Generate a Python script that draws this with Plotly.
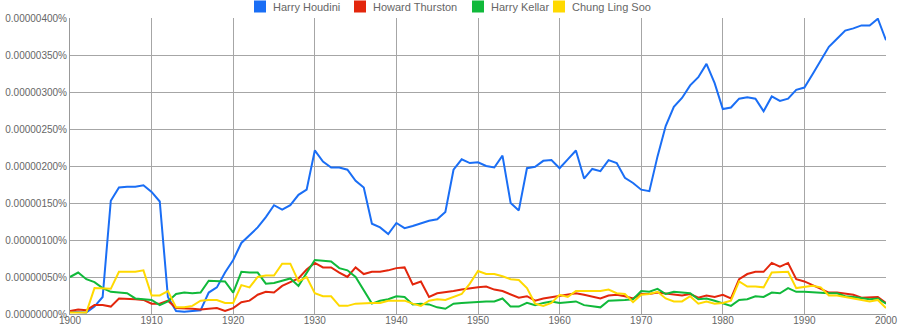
import plotly.graph_objects as go

years = list(range(1900, 2001))

# values in millionths of a percent (1e-6 %)
houdini = [0.03, 0.02, 0.02, 0.10, 0.23, 1.53, 1.71, 1.72, 1.72, 1.74,
           1.65, 1.52, 0.23, 0.04, 0.03, 0.04, 0.05, 0.29, 0.36, 0.56,
           0.73, 0.96, 1.06, 1.17, 1.31, 1.47, 1.41, 1.47, 1.61, 1.68,
           2.21, 2.06, 1.98, 1.98, 1.95, 1.80, 1.71, 1.22, 1.17, 1.08,
           1.23, 1.16, 1.19, 1.23, 1.26, 1.28, 1.38, 1.95, 2.09, 2.04,
           2.05, 2.00, 1.98, 2.14, 1.50, 1.40, 1.97, 1.99, 2.07, 2.08,
           1.97, 2.09, 2.21, 1.83, 1.96, 1.93, 2.08, 2.04, 1.84, 1.77,
           1.68, 1.66, 2.13, 2.54, 2.80, 2.92, 3.09, 3.20, 3.38, 3.12,
           2.77, 2.79, 2.91, 2.93, 2.91, 2.74, 2.94, 2.88, 2.91, 3.03,
           3.06, 3.24, 3.43, 3.61, 3.72, 3.83, 3.86, 3.90, 3.90, 3.99,
           3.70]

thurston = [0.04, 0.06, 0.05, 0.12, 0.12, 0.10, 0.21, 0.21, 0.20, 0.19,
            0.14, 0.14, 0.18, 0.08, 0.08, 0.07, 0.06, 0.07, 0.08, 0.04,
            0.08, 0.16, 0.18, 0.26, 0.30, 0.29, 0.38, 0.43, 0.48, 0.60,
            0.69, 0.63, 0.63, 0.56, 0.50, 0.63, 0.54, 0.57, 0.57, 0.59,
            0.62, 0.63, 0.40, 0.44, 0.23, 0.28, 0.29, 0.31, 0.33, 0.35,
            0.36, 0.37, 0.33, 0.31, 0.26, 0.22, 0.24, 0.18, 0.21, 0.23,
            0.25, 0.27, 0.28, 0.26, 0.24, 0.21, 0.25, 0.26, 0.24, 0.21,
            0.27, 0.27, 0.29, 0.28, 0.27, 0.25, 0.27, 0.22, 0.25, 0.23,
            0.26, 0.21, 0.47, 0.54, 0.57, 0.57, 0.69, 0.64, 0.69, 0.47,
            0.44, 0.39, 0.35, 0.29, 0.29, 0.27, 0.26, 0.22, 0.22, 0.23,
            0.15]

kellar = [0.50, 0.56, 0.47, 0.43, 0.35, 0.30, 0.29, 0.28, 0.21, 0.20,
          0.19, 0.12, 0.17, 0.27, 0.29, 0.28, 0.29, 0.45, 0.45, 0.44,
          0.29, 0.57, 0.56, 0.56, 0.41, 0.42, 0.45, 0.48, 0.38, 0.55,
          0.73, 0.72, 0.71, 0.62, 0.59, 0.50, 0.32, 0.14, 0.18, 0.20,
          0.24, 0.23, 0.13, 0.14, 0.13, 0.09, 0.07, 0.14, 0.15, 0.16,
          0.17, 0.17, 0.17, 0.21, 0.10, 0.10, 0.15, 0.12, 0.15, 0.17,
          0.15, 0.16, 0.17, 0.12, 0.11, 0.09, 0.18, 0.18, 0.19, 0.20,
          0.31, 0.30, 0.34, 0.27, 0.30, 0.29, 0.28, 0.20, 0.21, 0.18,
          0.15, 0.11, 0.19, 0.20, 0.24, 0.23, 0.29, 0.28, 0.35, 0.30,
          0.30, 0.29, 0.29, 0.28, 0.28, 0.24, 0.23, 0.21, 0.20, 0.21,
          0.14]

chung = [0.02, 0.02, 0.02, 0.35, 0.34, 0.34, 0.57, 0.57, 0.57, 0.59,
         0.25, 0.25, 0.31, 0.09, 0.09, 0.11, 0.18, 0.19, 0.19, 0.15,
         0.15, 0.39, 0.36, 0.50, 0.52, 0.52, 0.68, 0.68, 0.44, 0.50,
         0.28, 0.24, 0.24, 0.11, 0.11, 0.14, 0.15, 0.15, 0.15, 0.18,
         0.18, 0.18, 0.14, 0.11, 0.18, 0.20, 0.19, 0.23, 0.27, 0.41,
         0.58, 0.54, 0.54, 0.51, 0.47, 0.46, 0.35, 0.14, 0.11, 0.15,
         0.26, 0.23, 0.31, 0.31, 0.31, 0.31, 0.33, 0.28, 0.27, 0.16,
         0.26, 0.27, 0.30, 0.21, 0.17, 0.17, 0.24, 0.14, 0.17, 0.14,
         0.15, 0.18, 0.44, 0.37, 0.37, 0.36, 0.56, 0.56, 0.57, 0.35,
         0.37, 0.38, 0.36, 0.25, 0.25, 0.23, 0.21, 0.18, 0.17, 0.19,
         0.08]

names = ["Harry Houdini", "Howard Thurston", "Harry Kellar", "Chung Ling Soo"]
colors = ["#1a6ef5", "#e3260c", "#10b93a", "#ffd900"]
series = [houdini, thurston, kellar, chung]

x_ticks = list(range(1900, 2001, 10))
y_ticks = [0, 0.5, 1.0, 1.5, 2.0, 2.5, 3.0, 3.5, 4.0]

W, H = 900, 330
ML, MR, MT, MB = 70, 14, 18, 16
PW, PH = W - ML - MR, H - MT - MB

FONT = "Liberation Sans, Arial, sans-serif"
TXT = "#666666"


def px_x(p):
    return (p - ML) / PW


def px_y(p):
    return (H - MB - p) / PH


fig = go.Figure()
for name, color, vals in zip(names, colors, series):
    fig.add_trace(go.Scatter(
        x=years, y=[v * 1e-6 for v in vals], mode="lines",
        line=dict(color=color, width=2), name=name, showlegend=False,
        hoverinfo="skip"))

# legend: coloured squares + labels above the plot
legend_sq_left = [254, 354, 472, 553]
for name, color, px in zip(names, colors, legend_sq_left):
    fig.add_shape(type="rect", xref="paper", yref="paper",
                  x0=px_x(px), x1=px_x(px + 12), y0=px_y(12.5), y1=px_y(0.5),
                  fillcolor=color, line=dict(width=0), layer="above")
    fig.add_annotation(xref="paper", yref="paper",
                       x=px_x(px + 17), y=px_y(6.5),
                       xanchor="left", yanchor="middle", showarrow=False,
                       text=name, font=dict(family=FONT, size=11, color=TXT))

fig.update_layout(
    width=W, height=H,
    margin=dict(l=ML, r=MR, t=MT, b=MB, autoexpand=False, pad=0),
    paper_bgcolor="white", plot_bgcolor="white",
    showlegend=False,
    font=dict(family=FONT, size=10, color=TXT),
    xaxis=dict(range=[1900, 2000], tickvals=x_ticks, ticktext=[str(t) for t in x_ticks],
               showgrid=True, gridcolor="#a6a6a6", gridwidth=1,
               showline=True, linecolor="#999999", linewidth=1,
               ticks="", zeroline=False, ticklabelstandoff=-3,
               tickfont=dict(family=FONT, size=10, color=TXT)),
    yaxis=dict(range=[0, 4e-6], tickvals=[v * 1e-6 for v in y_ticks],
               ticktext=["%.8f%%" % (v * 1e-6) for v in y_ticks],
               showgrid=True, gridcolor="#a6a6a6", gridwidth=1,
               showline=True, linecolor="#999999", linewidth=1,
               ticks="", zeroline=False,
               tickfont=dict(family=FONT, size=10, color=TXT)),
)

fig.write_html("out.html")
